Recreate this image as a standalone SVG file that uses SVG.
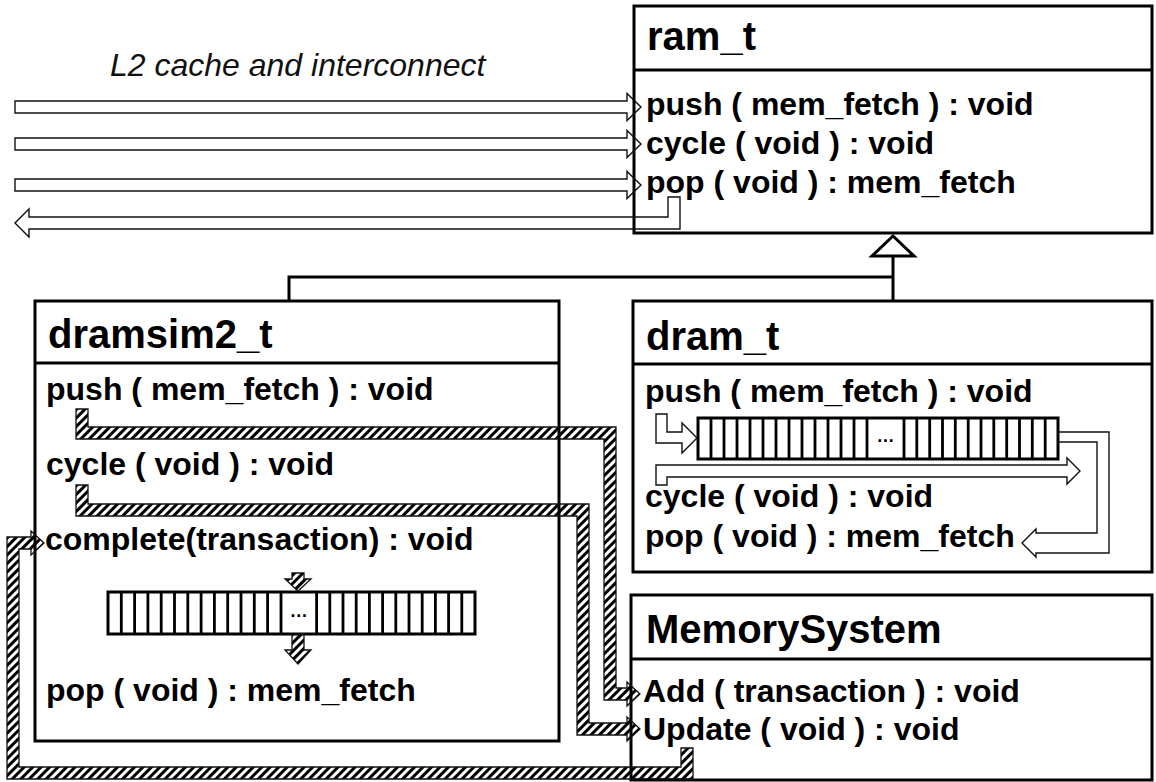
<svg xmlns="http://www.w3.org/2000/svg" width="1156" height="782" viewBox="0 0 1156 782">
<style>
.box{fill:#fff;stroke:#000;stroke-width:3}
.div{stroke:#000;stroke-width:3}
.title{font-family:"Liberation Sans",Arial,sans-serif;font-weight:bold;font-size:40px;fill:#000}
.m{font-family:"Liberation Sans",Arial,sans-serif;font-weight:bold;font-size:32px;fill:#000}
.lab{font-family:"Liberation Sans",Arial,sans-serif;font-style:italic;font-size:32px;fill:#111}
.hollow{fill:none;stroke:#111;stroke-width:1.4;stroke-linejoin:miter}
.hatch{fill:url(#hatch);stroke:#111;stroke-width:1.3}
.inh{fill:none;stroke:#000;stroke-width:3}
.q{fill:#fff;stroke:#000;stroke-width:3}
.cells{stroke:#000;stroke-width:2.8;fill:none}
.dots{font-family:"Liberation Sans",Arial,sans-serif;font-weight:bold;font-size:18px;fill:#000}
</style>
<defs>
<pattern id="hatch" patternUnits="userSpaceOnUse" width="6" height="6" patternTransform="rotate(45)">
<rect x="0" y="0" width="3" height="6" fill="#000"/>
</pattern>
</defs>
<rect width="1156" height="782" fill="#fff"/>

<g id="label-l2">
<text class="lab" x="110" y="76">L2 cache and interconnect</text>
</g>

<g id="ram_t">
<rect class="box" x="634" y="6" width="518" height="227"/>
<line class="div" x1="634" y1="70" x2="1152" y2="70"/>
<text class="title" x="647" y="50">ram_t</text>
<text class="m" x="646" y="115">push ( mem_fetch ) : void</text>
<text class="m" x="646" y="154">cycle ( void ) : void</text>
<text class="m" x="646" y="193">pop ( void ) : mem_fetch</text>
</g>

<g id="dramsim2_t">
<rect class="box" x="35" y="301" width="524" height="440"/>
<line class="div" x1="35" y1="363" x2="559" y2="363"/>
<text class="title" x="48" y="348">dramsim2_t</text>
<text class="m" x="46" y="400">push ( mem_fetch ) : void</text>
<text class="m" x="46" y="475">cycle ( void ) : void</text>
<text class="m" x="45" y="550">complete(transaction) : void</text>
<text class="m" x="46" y="701">pop ( void ) : mem_fetch</text>
<g id="dramsim2_queue">
<rect class="q" x="108" y="592" width="367" height="42"/>
<path class="cells" d="M121.3 592V634M134.6 592V634M147.9 592V634M161.2 592V634M174.5 592V634M187.8 592V634M201.1 592V634M214.4 592V634M227.7 592V634M241 592V634M254.3 592V634M267.6 592V634M281 592V634M316.6 592V634M329.8 592V634M343 592V634M356.2 592V634M369.4 592V634M382.6 592V634M395.8 592V634M409 592V634M422.2 592V634M435.4 592V634M448.6 592V634M461.8 592V634"/>
<text class="dots" x="298.8" y="617" text-anchor="middle">…</text>
</g>
</g>

<g id="dram_t">
<rect class="box" x="633" y="301" width="519" height="271"/>
<line class="div" x1="633" y1="364" x2="1152" y2="364"/>
<text class="title" x="646" y="350">dram_t</text>
<text class="m" x="645" y="402">push ( mem_fetch ) : void</text>
<text class="m" x="645" y="507">cycle ( void ) : void</text>
<text class="m" x="645" y="547">pop ( void ) : mem_fetch</text>
<g id="dram_queue">
<rect class="q" x="698" y="418" width="360" height="41"/>
<path class="cells" d="M711 418V459M724 418V459M737 418V459M750 418V459M763 418V459M776 418V459M789 418V459M802 418V459M815 418V459M828 418V459M841 418V459M854 418V459M867 418V459M904 418V459M916.8 418V459M929.7 418V459M942.5 418V459M955.3 418V459M968.2 418V459M981 418V459M993.8 418V459M1006.7 418V459M1019.5 418V459M1032.3 418V459M1045.2 418V459"/>
<text class="dots" x="885.5" y="442" text-anchor="middle">…</text>
</g>
</g>

<g id="MemorySystem">
<rect class="box" x="631" y="595" width="521" height="185"/>
<line class="div" x1="631" y1="659" x2="1152" y2="659"/>
<text class="title" x="646" y="643">MemorySystem</text>
<text class="m" x="643" y="702">Add ( transaction ) : void</text>
<text class="m" x="643" y="740">Update ( void ) : void</text>
</g>

<g id="connectors">
<path class="inh" d="M893 256V301M893 277H289V301"/>
<polygon class="inh" style="fill:#fff" points="893,236 914,256 872,256"/>
<polygon class="hollow" points="15,101 627,101 627,93.5 641,107 627,120.5 627,113 15,113"/>
<polygon class="hollow" points="15,138 627,138 627,130.5 641,144 627,157.5 627,150 15,150"/>
<polygon class="hollow" points="15,179 627,179 627,171.5 641,185 627,198.5 627,191 15,191"/>
<polygon class="hollow" points="668,197 680,197 680,229 29,229 29,237 15,223 29,209 29,217 668,217"/>
<polygon class="hollow" points="656,414 667,414 667,432 682,432 682,423 697,438 682,453 682,443 656,443"/>
<polygon class="hollow" points="1058,432 1109,432 1109,553 1036,553 1036,557 1022,543 1036,529 1036,533 1097,533 1097,442 1058,442"/>
<polygon class="hollow" points="656,485 656,465 1067,465 1067,458 1080,471 1067,484 1067,477 667,477 667,485"/>
<polygon class="hatch" points="76,409 88,409 88,427 616,427 616,688 627,688 627,682 640,694 627,706 627,700 604,700 604,439 76,439"/>
<polygon class="hatch" points="76,485 88,485 88,504 589,504 589,723 627,723 627,717 640,729 627,741 627,735 577,735 577,516 76,516"/>
<polygon class="hatch" points="681,748 693,748 693,779 7,779 7,537 31,537 31,531 44,543 31,555 31,549 19,549 19,767 681,767"/>
<polygon class="hatch" points="292,573 304,573 304,579 311,579 298,591 285,579 292,579"/>
<polygon class="hatch" points="292,634 304,634 304,650 311,650 298,664 285,650 292,650"/>
</g>
</svg>
